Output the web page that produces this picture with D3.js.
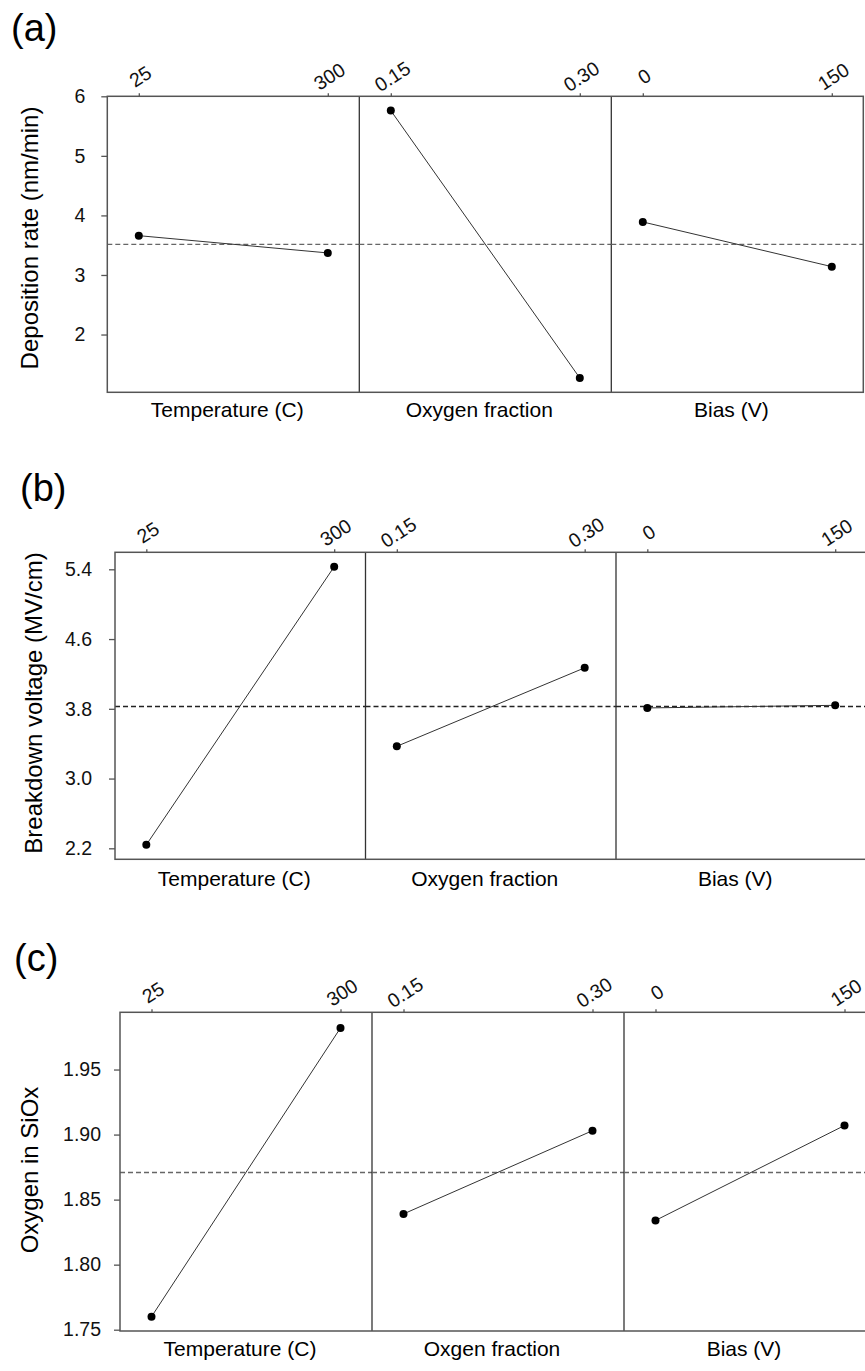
<!DOCTYPE html>
<meta charset="utf-8">
<style>
body {
  margin: 0;
  background: #fff;
}
svg {
  font-family: "Liberation Sans", Arial, sans-serif;
  display: block;
}
.frame {
  fill: none;
  stroke: #555;
  stroke-width: 1.5;
}
.divider {
  stroke: #333;
  stroke-width: 1.3;
}
.axis path {
  display: none;
}
.axis line {
  stroke: #555;
  stroke-width: 1.3;
}
.axis text {
  fill: #111;
}
.effect {
  fill: none;
  stroke: #333;
  stroke-width: 1;
}
.mean {
  stroke-dasharray: 5,3;
  stroke-width: 1.3;
}
</style>
<body>
<script src="https://cdn.jsdelivr.net/npm/d3@7/dist/d3.min.js"></script>
<script>

// factors and their two levels
var factors = ["Temperature (C)", "Oxygen fraction", "Bias (V)"];
var factorsC = ["Temperature (C)", "Oxgen fraction", "Bias (V)"];
var levels = [["25", "300"], ["0.15", "0.30"], ["0", "150"]];

// main effects, one pair per factor (low level, high level)
var depositionRate = [[3.66, 3.37], [5.76, 1.27], [3.89, 3.14]];
var breakdownVoltage = [[2.24, 5.43], [3.37, 4.27], [3.81, 3.84]];
var oxygenInSiOx = [[1.760, 1.982], [1.839, 1.903], [1.834, 1.907]];

// y axes
var ticksA = [2, 3, 4, 5, 6];
var ticksB = [2.2, 3.0, 3.8, 4.6, 5.4];
var ticksC = [1.75, 1.80, 1.85, 1.90, 1.95];

var width = 865,
    height = 1371;

var svg = d3.select("body").append("svg")
    .attr("width", width)
    .attr("height", height);

var panels = [
  {tag: "(a)", tagX: 11, tagY: 41, title: "Deposition rate (nm/min)", titleX: 30, titleY: 238,
   names: factors, values: depositionRate, ticks: ticksA, fmt: d3.format("d"),
   domain: [1.03, 6.0], top: 96.3, bottom: 392.3, left: 107.3, w: 252, pad: 16,
   meanColor: "#666", labelDy: 25},
  {tag: "(b)", tagX: 20, tagY: 501, title: "Breakdown voltage (MV/cm)", titleX: 34, titleY: 703,
   names: factors, values: breakdownVoltage, ticks: ticksB, fmt: d3.format(".1f"),
   domain: [2.074, 5.595], top: 552.3, bottom: 859.3, left: 115, w: 250.5, pad: 17,
   meanColor: "#222", labelDy: 27},
  {tag: "(c)", tagX: 14, tagY: 971, title: "Oxygen in SiOx", titleX: 30, titleY: 1170,
   names: factorsC, values: oxygenInSiOx, ticks: ticksC, fmt: d3.format(".2f"),
   domain: [1.749, 1.994], top: 1012.3, bottom: 1331, left: 120, w: 252, pad: 13,
   meanColor: "#666", labelDy: 25}
];

panels.forEach(drawPanel);

function drawPanel(p) {
  var g = svg.append("g");

  var y = d3.scaleLinear()
      .domain(p.domain)
      .range([p.bottom, p.top]);

  var grandMean = d3.mean(d3.merge(p.values));

  g.append("text")
      .attr("x", p.tagX)
      .attr("y", p.tagY)
      .style("font-size", "38px")
      .text(p.tag);

  g.append("text")
      .attr("transform", "translate(" + p.titleX + "," + p.titleY + ") rotate(-90)")
      .attr("text-anchor", "middle")
      .attr("dy", "0.35em")
      .style("font-size", "24px")
      .text(p.title);

  g.append("g")
      .attr("class", "axis")
      .attr("transform", "translate(" + p.left + ",0)")
      .call(d3.axisLeft(y).tickValues(p.ticks).tickFormat(p.fmt).tickSize(6).tickPadding(p.pad))
      .selectAll("text")
      .style("font-size", "19.5px");

  p.values.forEach(function(vals, i) {
    var x0 = p.left + i * p.w;

    var x = d3.scalePoint()
        .domain(levels[i])
        .range([x0, x0 + p.w])
        .padding(1 / 6);

    // level labels on top, tilted
    var top = g.append("g")
        .attr("class", "axis")
        .attr("transform", "translate(0," + p.top + ")")
        .call(d3.axisTop(x).tickSize(3).tickPadding(0));
    top.selectAll("text")
        .attr("y", 0)
        .attr("dy", 0)
        .attr("text-anchor", "middle")
        .attr("dominant-baseline", "central")
        .attr("transform", "translate(1,-20) rotate(-33)")
        .style("font-size", "19.5px");

    if (i > 0) {
      g.append("line")
          .attr("class", "divider")
          .attr("x1", x0).attr("x2", x0)
          .attr("y1", p.top).attr("y2", p.bottom);
    }

    g.append("line")
        .attr("class", "mean")
        .attr("x1", x0).attr("x2", x0 + p.w)
        .attr("y1", y(grandMean)).attr("y2", y(grandMean))
        .style("stroke", p.meanColor);

    var pts = vals.map(function(v, j) { return [x(levels[i][j]), y(v)]; });

    g.append("path")
        .attr("class", "effect")
        .attr("d", d3.line()(pts));

    g.selectAll(null)
        .data(pts)
      .enter().append("circle")
        .attr("cx", function(d) { return d[0]; })
        .attr("cy", function(d) { return d[1]; })
        .attr("r", 4)
        .style("fill", "#000");

    g.append("text")
        .attr("x", x0 + p.w / 2 - 6)
        .attr("y", p.bottom + p.labelDy)
        .attr("text-anchor", "middle")
        .style("font-size", "21px")
        .text(p.names[i]);
  });

  g.append("rect")
      .attr("class", "frame")
      .attr("x", p.left)
      .attr("y", p.top)
      .attr("width", p.w * 3)
      .attr("height", p.bottom - p.top);
}

</script>
</body>
</html>
